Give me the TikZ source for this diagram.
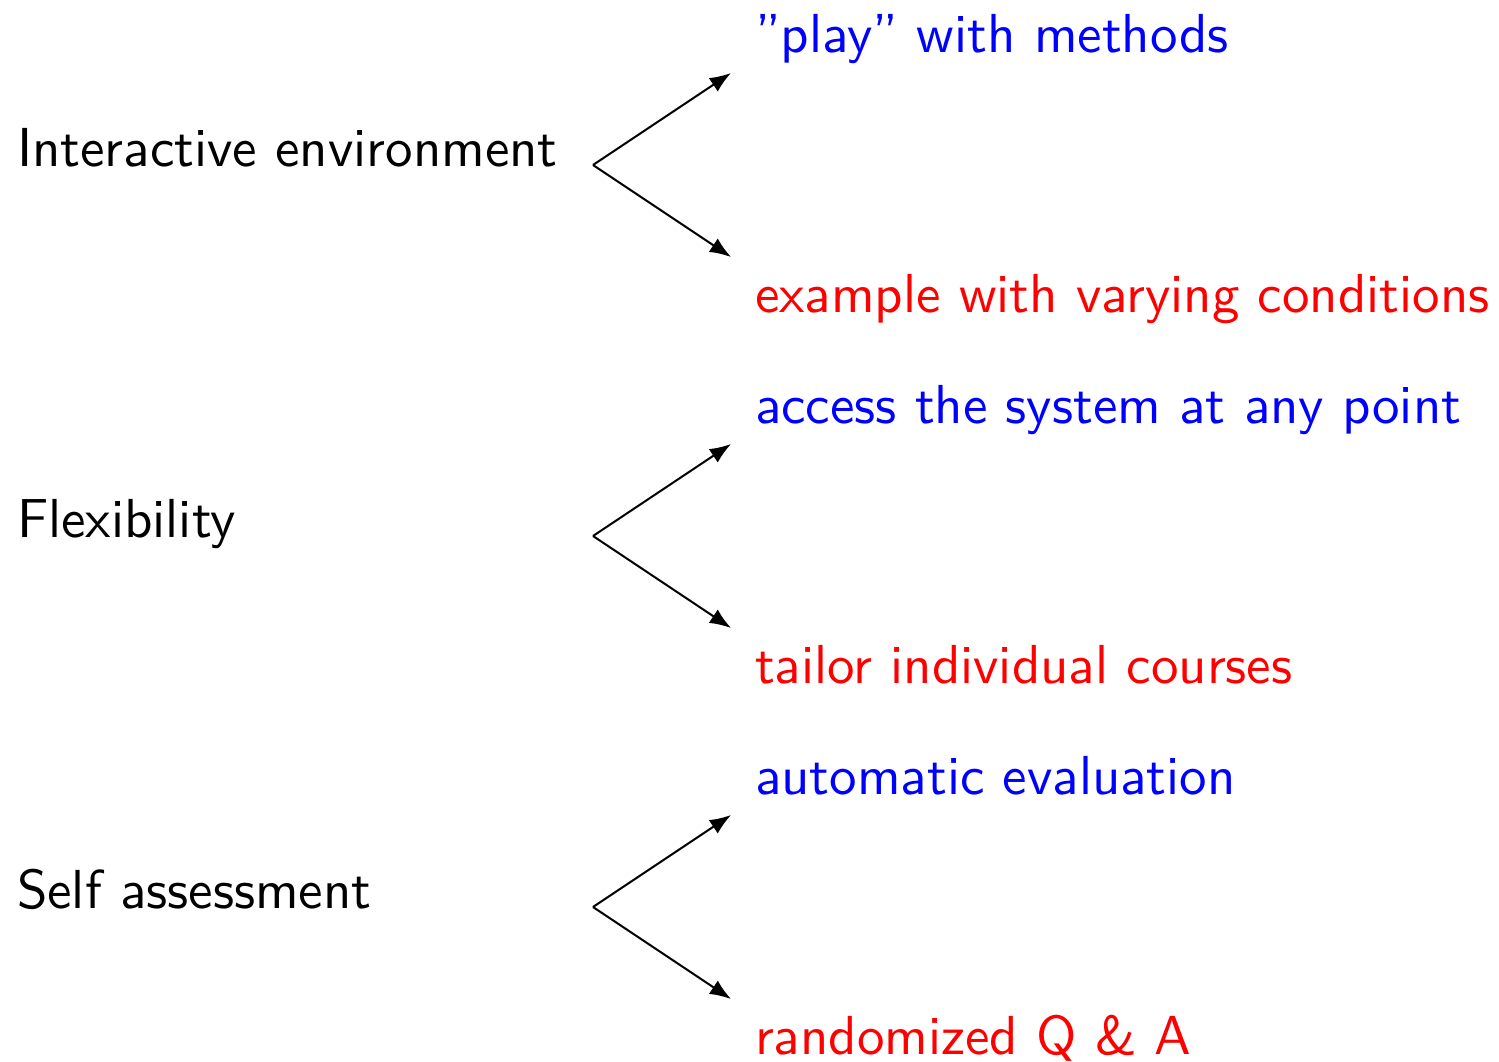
\documentclass[tikz,border=0pt]{standalone}
\usetikzlibrary{arrows.meta}
\begin{document}
\begin{tikzpicture}[x=0.1984pt,y=-0.1984pt,
  lbl/.style={anchor=base west,inner sep=0pt,font=\fontsize{10.9}{13}\selectfont\sffamily},
  sub/.style={lbl},
  arr/.style={-{Latex[length=4.2pt,width=3.2pt]},line width=0.4pt}]
\useasboundingbox (0,0) rectangle (1499,1061);
\foreach \i/\L/\A/\B/\dy in {1/Interactive environment/{''play'' with methods}/example with varying conditions/0,
  2/Flexibility/access the system at any point/tailor individual courses/371,
  3/Self assessment/automatic evaluation/randomized Q \& A/742}{
  \node[lbl] (L\i) at (16,166+\dy) {\L};
  \node[sub,text=blue] (A\i) at (754,52+\dy) {\A};
  \node[sub,text=red] (B\i) at (754,312+\dy) {\B};
  \coordinate (O\i) at (593,165+\dy);
  \coordinate (P\i) at (731,73+\dy);
  \coordinate (Q\i) at (731,257+\dy);
  \draw[arr] (O\i) -- (P\i);
  \draw[arr] (O\i) -- (Q\i);
}
\end{tikzpicture}
\end{document}
